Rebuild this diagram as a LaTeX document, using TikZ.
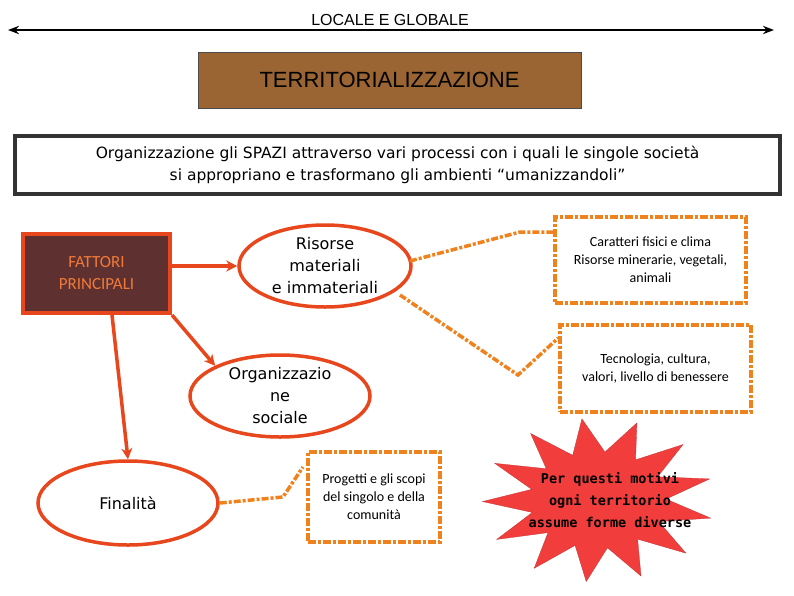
\documentclass[tikz,border=0pt]{standalone}
\usepackage{fontspec}
\setmainfont{Liberation Sans}
\newfontfamily\bodyf{DejaVu Sans}
\newfontfamily\smallf{Carlito}
\newfontfamily\starf{DejaVu Sans Mono}
\usetikzlibrary{shapes.geometric,arrows.meta}
\definecolor{ored}{HTML}{E8461C}
\definecolor{dorange}{HTML}{F0821E}
\definecolor{brownbox}{HTML}{9A6433}
\definecolor{darkred}{HTML}{5E3030}
\definecolor{fattxt}{HTML}{F07A3A}
\definecolor{starred}{HTML}{F23D3D}
\tikzset{
  ell/.style={ellipse,draw=ored,line width=3.5pt,fill=white,align=center,inner sep=0pt,font=\bodyf\fontsize{16}{22}\selectfont},
  dbox/.style={draw=dorange,line width=3.5pt,dash pattern=on 8pt off 2pt on 3pt off 2pt,align=center,font=\smallf\fontsize{14}{18}\selectfont},
  dcon/.style={draw=dorange,line width=3.5pt,dash pattern=on 7pt off 2pt on 3pt off 2pt},
  arr/.style={draw=ored,line width=3.5pt,-{Stealth[length=11pt,width=11pt]}}
}
\begin{document}
\begin{tikzpicture}[x=1pt,y=-1pt]
\useasboundingbox (0,0) rectangle (794,595);
\fill[white] (0,0) rectangle (794,595);
\coordinate (la) at (8,30);
\coordinate (lb) at (774,30);
\draw[line width=2.5pt,{Stealth[length=11pt]}-{Stealth[length=11pt]}] (la) -- (lb);
\node (lg) at (390,20) {\fontsize{16}{18}\selectfont LOCALE E GLOBALE};
\node[draw=black!70,fill=brownbox,minimum width=383pt,minimum height=56pt,font=\fontsize{22}{24}\selectfont] (terr) at (389.5,80) {TERRITORIALIZZAZIONE};
\node[draw=black!80,line width=3.5pt,fill=white,minimum width=765pt,minimum height=58pt,align=center,font=\bodyf\fontsize{15.5}{22}\selectfont] (org) at (397.5,165) {Organizzazione gli SPAZI attraverso vari processi con i quali le singole società\\si appropriano e trasformano gli ambienti “umanizzandoli”};
\node[draw=ored,line width=4pt,fill=darkred,text=fattxt,minimum width=147pt,minimum height=79pt,align=center,font=\smallf\fontsize{17}{22}\selectfont] (fatt) at (96.5,273.5) {FATTORI\\PRINCIPALI};
\node[ell,minimum width=172pt,minimum height=82pt] (ris) at (325,266) {Risorse\\materiali\\e immateriali};
\node[ell,minimum width=180pt,minimum height=82pt] (osoc) at (280,396) {Organizzazio\\ne\\sociale};
\node[ell,minimum width=180pt,minimum height=84pt] (fin) at (128,503) {Finalità};
\node[dbox,minimum width=132pt,minimum height=90pt] (prog) at (374,497) {Progetti e gli scopi\\del singolo e della\\comunità};
\node[dbox,minimum width=191pt,minimum height=86pt] (car) at (650.5,260) {Caratteri fisici e clima\\Risorse minerarie, vegetali,\\animali};
\node[dbox,minimum width=191pt,minimum height=87pt] (tec) at (655.5,368.5) {Tecnologia, cultura,\\valori, livello di benessere};
\node[star,star points=13,star point ratio=1.7,fill=starred,draw=starred!80!black,line width=0.3pt,minimum size=210pt,xscale=1.1,yscale=0.78,rotate=8] (st) at (598,500) {};
\node[align=center,font=\starf\bfseries\fontsize{13.5}{22}\selectfont] (sttxt) at (610,500) {Per questi motivi\\ogni territorio\\assume forme diverse};
\draw[arr] (fatt.east|-ris.west) -- (ris.west);
\draw[arr] (fatt.south east) -- (osoc.north west);
\draw[arr] (fatt.south -| 112,0) -- (fin.north);
\coordinate (c1) at (520,232);
\coordinate (c2) at (518,375);
\coordinate (c3) at (283,497);
\draw[dcon] (410,261) -- (c1) -- (car.west|-c1);
\draw[dcon] (400,295) -- (c2) -- (tec.west|-0,338);
\draw[dcon] (fin.east) -- (c3) -- (303,467);
\end{tikzpicture}
\end{document}
